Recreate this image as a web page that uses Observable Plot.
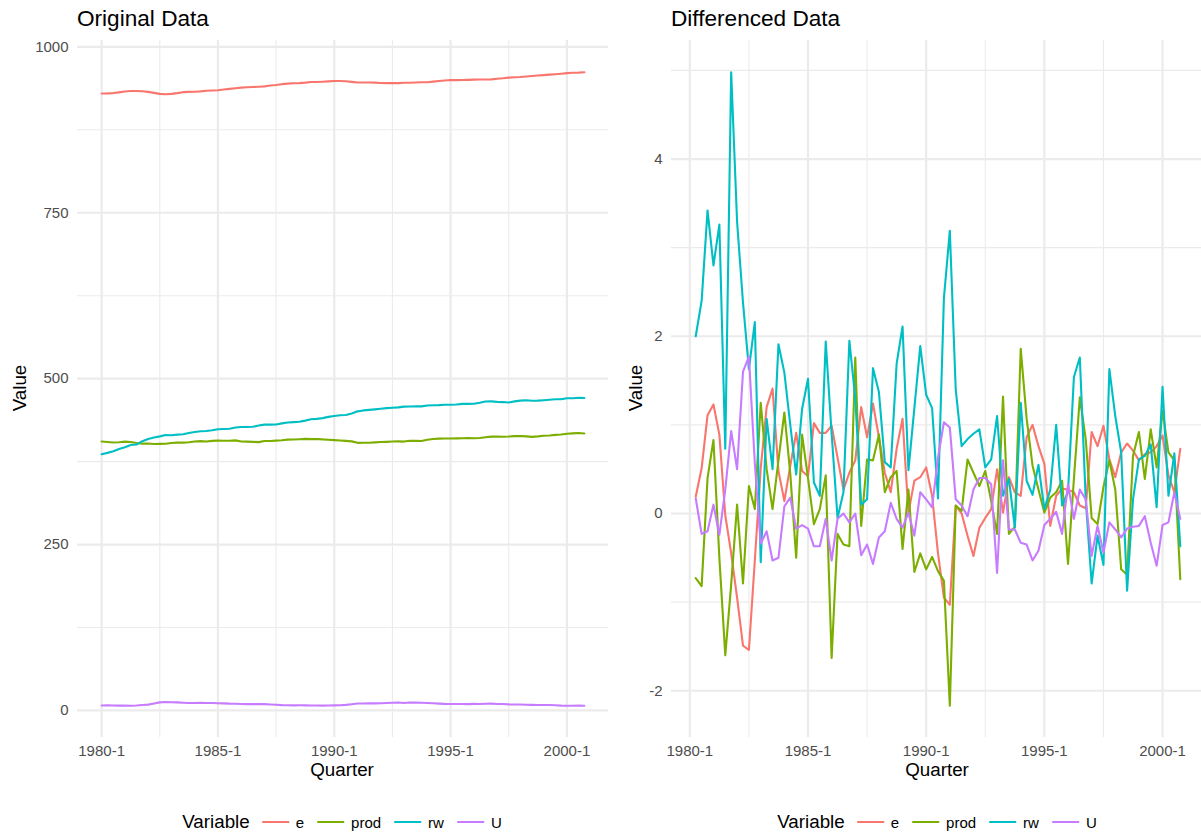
<!DOCTYPE html>
<html><head><meta charset="utf-8">
<script src="https://cdn.jsdelivr.net/npm/d3@7"></script>
<script src="https://cdn.jsdelivr.net/npm/@observablehq/plot@0.6"></script>
<style>
body{margin:0;background:#fff;overflow:hidden;}
#wrap{position:relative;width:1201px;height:832px;overflow:hidden;background:#fff;font-family:"Liberation Sans",Arial,sans-serif;}
.abs{position:absolute;}
.title{font-size:22.6px;line-height:1;color:#000;top:8px;white-space:nowrap;}
.xlab{font-size:18.8px;line-height:1;color:#000;top:761px;transform:translateX(-50%);white-space:nowrap;}
.ylab{font-size:18.8px;line-height:1;color:#000;top:388px;transform:translate(-50%,-50%) rotate(-90deg);white-space:nowrap;}
.legend{position:absolute;top:807px;height:30px;transform:translateX(-50%);display:flex;align-items:center;white-space:nowrap;color:#000;}
.legend .lt{font-size:18.8px;margin-right:12px;}
.legend .key{display:inline-block;width:27px;height:2.4px;margin-right:7px;}
.legend .lab{font-size:15px;margin-right:13px;}
.legend .lab:last-child{margin-right:0;}
</style>
</head><body>
<div id="wrap"></div>
<script>
// Quarterly series, 1980-Q1 .. 2000-Q4 (84 quarters)
const variables = ["e", "prod", "rw", "U"];
const colors = ["#F8766D", "#7CAE00", "#00BFC4", "#C77CFF"];
const tickPositions = [0, 20, 40, 60, 80]; // quarter index from 1980-1
const tickLabels = ["1980-1", "1985-1", "1990-1", "1995-1", "2000-1"];

const e = [
929.61, 929.80, 930.31, 931.42, 932.65, 933.54, 933.52, 933.07, 932.12, 930.63,
929.09, 928.56, 929.07, 930.27, 931.68, 932.16, 932.30, 932.84, 933.75, 934.23,
934.65, 935.67, 936.58, 937.49, 938.48, 939.11, 939.38, 939.84, 940.44, 941.64,
942.50, 943.74, 944.60, 945.06, 945.30, 946.03, 947.10, 947.11, 947.48, 947.89,
948.41, 948.61, 948.16, 947.21, 946.18, 946.27, 946.27, 946.02, 945.54, 945.38,
945.33, 945.38, 945.88, 945.89, 946.30, 946.54, 946.74, 947.60, 948.60, 949.36,
949.92, 949.78, 949.98, 950.26, 950.53, 950.77, 950.86, 950.92, 951.84, 952.60,
953.59, 954.20, 954.61, 955.30, 956.09, 956.80, 957.40, 958.07, 958.76, 959.52,
960.40, 960.83, 961.07, 961.80];

const prod = [
405.37, 404.64, 403.82, 404.22, 405.05, 404.55, 402.95, 402.15, 402.25, 401.46,
401.77, 401.82, 403.07, 403.57, 403.62, 404.22, 405.36, 405.81, 405.31, 406.20,
406.60, 406.48, 406.53, 406.96, 405.33, 405.10, 404.75, 404.38, 406.14, 406.00,
406.61, 407.21, 408.10, 408.34, 408.75, 409.23, 408.83, 409.10, 408.44, 407.99,
407.36, 406.87, 406.22, 405.46, 403.29, 403.38, 403.41, 404.02, 404.48, 404.79,
405.27, 405.41, 405.18, 406.50, 406.27, 406.12, 407.98, 409.05, 409.59, 409.86,
409.87, 410.05, 410.29, 410.66, 410.09, 410.48, 411.79, 412.63, 412.58, 412.46,
412.76, 413.36, 413.63, 413.00, 412.31, 412.96, 413.88, 414.27, 415.22, 415.74,
416.90, 417.59, 418.19, 417.45];

const rw = [
386.14, 388.14, 390.54, 393.96, 396.76, 400.02, 400.75, 405.73, 409.02, 411.40,
413.03, 415.19, 414.64, 415.71, 416.21, 418.12, 419.71, 420.71, 421.15, 422.33,
423.85, 424.20, 424.40, 426.34, 427.24, 427.19, 427.43, 429.38, 430.68, 430.78,
430.94, 432.58, 433.95, 434.53, 435.05, 436.74, 438.85, 439.34, 440.53, 442.42,
443.76, 444.95, 445.12, 447.55, 450.74, 452.14, 452.90, 453.74, 454.64, 455.59,
456.11, 456.72, 457.82, 458.02, 458.41, 458.25, 459.50, 459.87, 460.08, 460.63,
460.68, 460.95, 461.95, 462.04, 462.28, 463.82, 465.58, 465.74, 464.95, 464.70,
464.12, 465.75, 466.85, 467.54, 466.67, 466.83, 467.44, 468.09, 468.87, 468.94,
470.37, 470.57, 471.25, 470.88];

const U = [
7.53, 7.70, 7.47, 7.27, 7.37, 7.13, 7.40, 8.33, 8.83, 10.43,
12.20, 12.77, 12.43, 12.23, 11.70, 11.20, 11.28, 11.46, 11.29, 11.16,
10.99, 10.62, 10.25, 10.19, 9.66, 9.60, 9.60, 9.50, 9.50, 9.03,
8.68, 8.11, 7.84, 7.64, 7.76, 7.70, 7.54, 7.55, 7.30, 7.54,
7.70, 7.77, 8.40, 9.43, 10.40, 10.56, 10.65, 10.62, 10.89, 11.29,
11.69, 12.02, 11.35, 11.95, 11.77, 11.59, 11.26, 10.91, 10.38, 9.96,
9.83, 9.77, 9.79, 9.56, 9.89, 9.83, 10.10, 10.26, 9.78, 9.64,
9.20, 9.10, 8.92, 8.65, 8.48, 8.33, 8.19, 8.16, 7.83, 7.24,
7.11, 7.01, 7.25, 7.19];

const seriesValues = [e, prod, rw, U];

const levels = variables.flatMap((name, k) =>
  seriesValues[k].map((v, i) => ({t: i, value: v, variable: name})));
const diffs = variables.flatMap((name, k) =>
  seriesValues[k].slice(1).map((v, i) => ({t: i + 1, value: v - seriesValues[k][i], variable: name})));

function makePanel(data, opts) {
  const [ymin, ymax] = d3.extent(data, d => d.value);
  const ypad = (ymax - ymin) * 0.05;
  const [tmin, tmax] = d3.extent(data, d => d.t);
  const tpad = (tmax - tmin) * 0.05;
  const yDom = [ymin - ypad, ymax + ypad];
  const xDom = [tmin - tpad, tmax + tpad];
  const inY = v => v >= yDom[0] && v <= yDom[1];
  const inX = v => v >= xDom[0] && v <= xDom[1];
  const xMinor = [-10, 10, 30, 50, 70, 90].filter(inX);
  const yMinor = opts.yMinor.filter(inY);
  const grid = "#EBEBEB";
  return Plot.plot({
    width: opts.width, height: 790,
    marginLeft: opts.marginLeft, marginRight: opts.marginRight, marginTop: 40, marginBottom: 53,
    style: {fontFamily: "Liberation Sans, Arial, sans-serif", fontSize: "15px", color: "#4D4D4D", background: "transparent", overflow: "visible", maxWidth: "none"},
    x: {domain: xDom},
    y: {domain: yDom},
    color: {domain: variables, range: colors},
    marks: [
      Plot.ruleX(xMinor, {stroke: grid, strokeWidth: 1.1}),
      Plot.ruleY(yMinor, {stroke: grid, strokeWidth: 1.1}),
      Plot.ruleX(tickPositions.filter(inX), {stroke: grid, strokeWidth: 2.2}),
      Plot.ruleY(opts.yTicks.filter(inY), {stroke: grid, strokeWidth: 2.2}),
      Plot.line(data, {x: "t", y: "value", z: "variable", stroke: "variable", strokeWidth: 2.1}),
      Plot.axisX({ticks: tickPositions, tickFormat: d => tickLabels[tickPositions.indexOf(d)], tickSize: 0, tickPadding: 8, label: null, fill: "#4D4D4D"}),
      Plot.axisY({ticks: opts.yTicks, tickFormat: d => String(d), tickSize: 0, tickPadding: 9, label: null, fill: "#4D4D4D"})
    ]
  });
}

const wrap = document.getElementById("wrap");

function addDiv(cls, text, css) {
  const d = document.createElement("div");
  d.className = "abs " + cls;
  d.textContent = text;
  Object.assign(d.style, css);
  wrap.appendChild(d);
  return d;
}

function addLegend(centerX) {
  const lg = document.createElement("div");
  lg.className = "legend";
  lg.style.left = centerX + "px";
  const t = document.createElement("span");
  t.className = "lt"; t.textContent = "Variable";
  lg.appendChild(t);
  variables.forEach((v, k) => {
    const key = document.createElement("span");
    key.className = "key"; key.style.background = colors[k];
    lg.appendChild(key);
    const lab = document.createElement("span");
    lab.className = "lab"; lab.textContent = v;
    lg.appendChild(lab);
  });
  wrap.appendChild(lg);
}

// Left panel: original data
const left = makePanel(levels, {width: 620, marginLeft: 77, marginRight: 12,
  yTicks: [0, 250, 500, 750, 1000], yMinor: [-125, 125, 375, 625, 875, 1125]});
const leftBox = document.createElement("div");
leftBox.className = "abs"; leftBox.style.left = "0px"; leftBox.style.top = "0px"; leftBox.style.width = "620px";
leftBox.appendChild(left);
wrap.appendChild(leftBox);

// Right panel: differenced data
const right = makePanel(diffs, {width: 604, marginLeft: 71, marginRight: 0,
  yTicks: [-2, 0, 2, 4], yMinor: [-3, -1, 1, 3, 5]});
const rightBox = document.createElement("div");
rightBox.className = "abs"; rightBox.style.left = "600px"; rightBox.style.top = "0px"; rightBox.style.width = "604px";
rightBox.appendChild(right);
wrap.appendChild(rightBox);

addDiv("title", "Original Data", {left: "77px"});
addDiv("title", "Differenced Data", {left: "671px"});
addDiv("xlab", "Quarter", {left: "342px"});
addDiv("xlab", "Quarter", {left: "937px"});
addDiv("ylab", "Value", {left: "20px"});
addDiv("ylab", "Value", {left: "636px"});
addLegend(342);
addLegend(937);
</script>
</body></html>
